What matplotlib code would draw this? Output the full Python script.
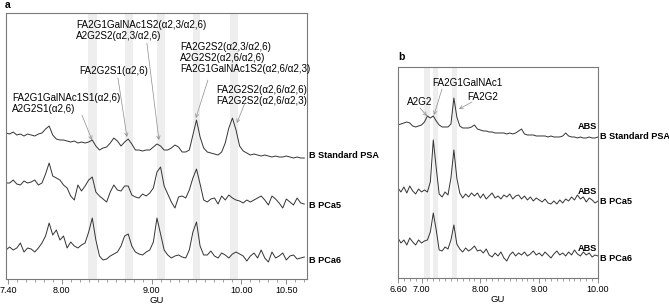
import matplotlib
matplotlib.use("Agg")
import matplotlib.pyplot as plt
from matplotlib.ticker import MultipleLocator, FixedLocator, FormatStrFormatter

plt.rcParams['font.family'] = ['Liberation Sans', 'DejaVu Sans']

# ---- panel a : GU sampling and traces (signal above each trace's baseline)
GU_A = [7.38, 7.42, 7.46, 7.50, 7.54, 7.58, 7.62, 7.66, 7.70, 7.74,
        7.78, 7.82, 7.86, 7.90, 7.94, 7.98, 8.02, 8.06, 8.10, 8.14,
        8.18, 8.22, 8.26, 8.30, 8.34, 8.38, 8.42, 8.46, 8.50, 8.54,
        8.58, 8.62, 8.66, 8.70, 8.74, 8.78, 8.82, 8.86, 8.90, 8.94,
        8.98, 9.02, 9.06, 9.10, 9.14, 9.18, 9.22, 9.26, 9.30, 9.34,
        9.38, 9.42, 9.46, 9.50, 9.54, 9.58, 9.62, 9.66, 9.70, 9.74,
        9.78, 9.82, 9.86, 9.90, 9.94, 9.98, 10.02, 10.06, 10.10, 10.14,
        10.18, 10.22, 10.26, 10.30, 10.34, 10.38, 10.42, 10.46, 10.50, 10.54,
        10.58, 10.62, 10.66, 10.70]

std_a = [27, 26, 28, 25, 26, 24, 26, 25, 24, 26,
         27, 31, 34, 25, 21, 20, 20, 19, 18, 19,
         17, 18, 17, 18, 20, 14, 10, 12, 13, 17,
         22, 19, 14, 18, 21, 16, 10, 10, 9, 10,
         10, 13, 16, 14, 10, 10, 12, 15, 13, 8,
         8, 10, 25, 40, 23, 12, 8, 7, 6, 5,
         8, 17, 32, 42, 30, 14, 9, 7, 5, 6,
         5, 4, 5, 4, 3, 4, 3, 3, 4, 3,
         2, 3, 2, 2]

pca5_a = [27, 27, 30, 26, 25, 29, 27, 28, 30, 25,
          27, 36, 47, 34, 32, 30, 25, 22, 14, 10,
          25, 19, 24, 30, 33, 18, 14, 11, 8, 18,
          25, 20, 19, 24, 24, 15, 13, 12, 16, 14,
          17, 22, 38, 43, 24, 16, 8, 2, 13, 14,
          12, 20, 32, 41, 26, 10, 8, 11, 12, 6,
          14, 10, 15, 12, 10, 9, 7, 10, 8, 10,
          12, 14, 10, 5, 14, 11, 7, 2, 11, 8,
          5, 12, 7, 6]

pca6_a = [15, 18, 15, 17, 22, 13, 17, 16, 13, 17,
          22, 29, 42, 30, 35, 25, 29, 17, 23, 19,
          17, 20, 22, 33, 47, 25, 9, 5, 6, 9,
          11, 13, 19, 29, 31, 19, 13, 11, 10, 13,
          15, 23, 47, 31, 15, 10, 7, 9, 10, 8,
          7, 15, 33, 43, 19, 10, 10, 14, 9, 7,
          12, 10, 7, 11, 13, 11, 9, 4, 9, 12,
          7, 15, 7, 3, 13, 7, 9, 12, 5, 9,
          10, 6, 7, 8]

# ---- panel b
GU_B = [6.60, 6.65, 6.70, 6.75, 6.80, 6.85, 6.90, 6.95, 7.00, 7.05,
        7.10, 7.15, 7.20, 7.25, 7.30, 7.35, 7.40, 7.45, 7.50, 7.55,
        7.60, 7.65, 7.70, 7.75, 7.80, 7.85, 7.90, 7.95, 8.00, 8.05,
        8.10, 8.15, 8.20, 8.25, 8.30, 8.35, 8.40, 8.45, 8.50, 8.55,
        8.60, 8.65, 8.70, 8.75, 8.80, 8.85, 8.90, 8.95, 9.00, 9.05,
        9.10, 9.15, 9.20, 9.25, 9.30, 9.35, 9.40, 9.45, 9.50, 9.55,
        9.60, 9.65, 9.70, 9.75, 9.80, 9.85, 9.90, 9.95, 10.00]

std_b = [15, 16, 17, 18, 17, 14, 13, 14, 15, 18,
         24, 22, 24, 19, 15, 13, 13, 13, 16, 42,
         23, 14, 12, 12, 12, 13, 15, 11, 10, 9,
         9, 8, 8, 7, 7, 7, 7, 6, 7, 6,
         7, 9, 11, 6, 5, 5, 5, 4, 4, 4,
         4, 3, 4, 3, 3, 3, 4, 7, 4, 3,
         3, 2, 3, 2, 2, 3, 2, 2, 3]

pca5_b = [17, 13, 18, 12, 19, 14, 11, 16, 13, 15,
          13, 23, 65, 37, 11, 8, 13, 10, 27, 55,
          27, 12, 7, 11, 8, 12, 9, 12, 7, 11,
          6, 9, 12, 7, 9, 6, 10, 8, 11, 6,
          9, 10, 6, 9, 5, 8, 4, 7, 5, 3,
          6, 2, 1, 4, 1, 5, 2, 6, 4, 8,
          5, 10, 6, 8, 3, 7, 5, 2, 4]

pca6_b = [24, 19, 22, 17, 24, 20, 17, 22, 19, 21,
          22, 30, 49, 32, 12, 11, 15, 13, 22, 37,
          18, 13, 10, 14, 11, 13, 16, 11, 12, 9,
          13, 7, 5, 9, 6, 10, 4, 1, 7, 10,
          6, 9, 7, 10, 6, 8, 11, 7, 9, 6,
          10, 7, 4, 8, 11, 7, 9, 6, 10, 7,
          12, 8, 6, 10, 7, 9, 5, 7, 6]

sample_names = ["B Standard PSA", "B PCa5", "B PCa6"]
bands_a = [(8.29, 8.39), (8.70, 8.79), (9.06, 9.15), (9.46, 9.54), (9.87, 9.96)]
bands_b = [(7.04, 7.14), (7.19, 7.28), (7.52, 7.60)]

# vertical stacking offsets (axis units)
offsets_a = [119, 69, 14]
offsets_b = [138, 73, 16]

LINE = '#333333'
SPINE = '#7a7a7a'
BAND = '#eeeeee'
ARROW = '#8c8c8c'
FS = 7.1     # annotations
LFS = 6.6    # sample labels
TFS = 6.5    # tick labels

fig = plt.figure(figsize=(6.69, 3.07), dpi=100)
ax_a = fig.add_axes([0.009, 0.0912, 0.4499, 0.8664])
ax_b = fig.add_axes([0.5949, 0.0945, 0.2990, 0.6873])


def style_axes(ax, xlim, ylim, majors):
    ax.set_xlim(*xlim)
    ax.set_ylim(*ylim)
    ax.set_yticks([])
    ax.xaxis.set_major_locator(FixedLocator(majors))
    ax.xaxis.set_major_formatter(FormatStrFormatter('%.2f'))
    ax.xaxis.set_minor_locator(MultipleLocator(0.1))
    ax.tick_params(axis='x', which='major', length=3.5, width=0.6, color=SPINE,
                   labelsize=TFS, pad=1.5)
    ax.tick_params(axis='x', which='minor', length=2.2, width=0.5, color=SPINE)
    for s in ax.spines.values():
        s.set_color(SPINE)
        s.set_linewidth(0.8)
    ax.set_xlabel("GU", fontsize=TFS + 0.3, labelpad=0.5)


def arrow(ax, tail, tip):
    ax.annotate("", xy=tip, xytext=tail,
                arrowprops=dict(arrowstyle='->', color=ARROW, lw=0.5,
                                shrinkA=0, shrinkB=0, mutation_scale=6))


# ---- panel a
style_axes(ax_a, (7.38, 10.73), (0, 266), [7.4, 8.0, 9.0, 10.0, 10.5])
for lo, hi in bands_a:
    ax_a.axvspan(lo, hi, color=BAND, lw=0, zorder=0)
for trace, off, name in zip([std_a, pca5_a, pca6_a], offsets_a, sample_names):
    ax_a.plot(GU_A, [v + off for v in trace], color=LINE, lw=0.7, zorder=2)
    ax_a.text(1.008, off + 5, name, transform=ax_a.get_yaxis_transform(),
              fontsize=LFS, fontweight='bold', va='center', ha='left')

ax_a.text(7.447, 186, "FA2G1GalNAc1S1(α2,6)\nA2G2S1(α2,6)", fontsize=FS,
          va='top', ha='left', linespacing=1.1)
ax_a.text(8.192, 208, "FA2G2S1(α2,6)", fontsize=FS, va='center', ha='left')
ax_a.text(8.159, 259, "FA2G1GalNAc1S2(α2,3/α2,6)\nA2G2S2(α2,3/α2,6)",
          fontsize=FS, va='top', ha='left', linespacing=1.1)
ax_a.text(9.315, 237, "FA2G2S2(α2,3/α2,6)\nA2G2S2(α2,6/α2,6)\nFA2G1GalNAc1S2(α2,6/α2,3)",
          fontsize=FS, va='top', ha='left', linespacing=1.1)
ax_a.text(9.716, 194, "FA2G2S2(α2,6/α2,6)\nFA2G2S2(α2,6/α2,3)",
          fontsize=FS, va='top', ha='left', linespacing=1.1)

arrow(ax_a, (8.225, 164), (8.337, 139))
arrow(ax_a, (8.626, 201), (8.726, 142))
arrow(ax_a, (8.948, 236), (9.082, 139))
arrow(ax_a, (9.627, 199), (9.493, 161))
arrow(ax_a, (10.039, 176), (9.949, 156))

# ---- panel b
style_axes(ax_b, (6.6, 10.0), (0, 211), [6.6, 7.0, 8.0, 9.0, 10.0])
for lo, hi in bands_b:
    ax_b.axvspan(lo, hi, color=BAND, lw=0, zorder=0)
for trace, off, name in zip([std_b, pca5_b, pca6_b], offsets_b, sample_names):
    ax_b.plot(GU_B, [v + off for v in trace], color=LINE, lw=0.7, zorder=2)
    ax_b.text(1.01, off + 3, name, transform=ax_b.get_yaxis_transform(),
              fontsize=LFS, fontweight='bold', va='center', ha='left')
    ax_b.text(0.995, off + 13, "ABS", transform=ax_b.get_yaxis_transform(),
              fontsize=LFS, fontweight='bold', va='center', ha='right')

ax_b.text(6.753, 176, "A2G2", fontsize=FS, va='center', ha='left')
ax_b.text(7.178, 195, "FA2G1GalNAc1", fontsize=FS, va='center', ha='left')
ax_b.text(7.773, 181, "FA2G2", fontsize=FS, va='center', ha='left')
arrow(ax_b, (6.974, 170), (7.093, 162))
arrow(ax_b, (7.348, 189), (7.212, 163))
arrow(ax_b, (7.858, 176), (7.637, 169))

fig.text(5 / 669, 1 - 5 / 307, "a", fontsize=7.5, fontweight='bold', va='center')
fig.text(398 / 669, 1 - 57 / 307, "b", fontsize=7.5, fontweight='bold', va='center')

fig.savefig("out.png", dpi=100)
